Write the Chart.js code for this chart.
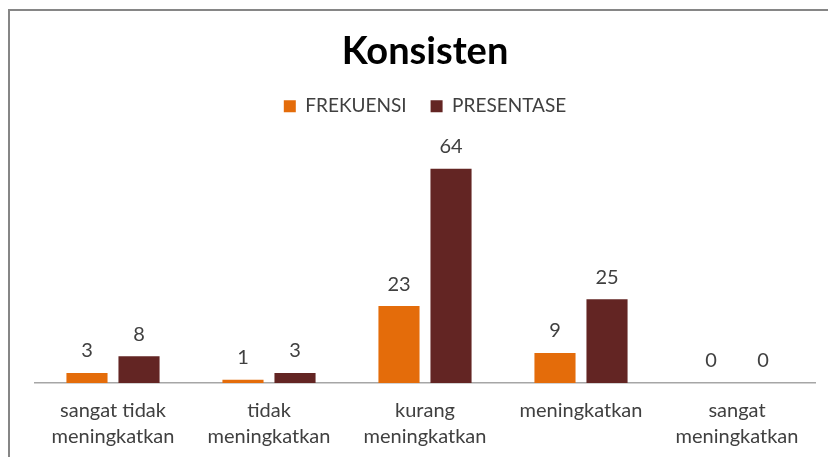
<!DOCTYPE html>
<html>
<head>
<meta charset="utf-8">
<script src="https://cdn.jsdelivr.net/npm/chart.js@4.4.1/dist/chart.umd.min.js"></script>
<style>
  html, body { margin: 0; padding: 0; background: #fff; }
  #wrap { position: relative; width: 828px; height: 457px; }
</style>
</head>
<body>
<div id="wrap"><canvas id="chart" width="828" height="457"></canvas></div>
<script>
// data
const categories = [
  ["sangat tidak", "meningkatkan"],
  ["tidak", "meningkatkan"],
  ["kurang", "meningkatkan"],
  "meningkatkan",
  ["sangat", "meningkatkan"]
];
const frekuensi = [3, 1, 23, 9, 0];
const presentase = [8, 3, 64, 25, 0];
const yMax = 70;

const FONT = "Lato, 'Open Sans', sans-serif";

// draws value labels above each bar
const valueLabels = {
  id: "valueLabels",
  afterDatasetsDraw(chart) {
    const ctx = chart.ctx;
    ctx.save();
    ctx.font = "20px " + FONT;
    ctx.fillStyle = "#404040";
    ctx.textAlign = "center";
    ctx.textBaseline = "middle";
    chart.data.datasets.forEach((ds, i) => {
      chart.getDatasetMeta(i).data.forEach((bar, j) => {
        ctx.fillText(ds.data[j], bar.x, bar.y - 22);
      });
    });
    ctx.restore();
  }
};

// grey frame at top and left, like the original chart box
const frame = {
  id: "frame",
  beforeDraw(chart) {
    const ctx = chart.ctx;
    ctx.save();
    ctx.strokeStyle = "#868686";
    ctx.lineWidth = 2;
    ctx.beginPath();
    ctx.moveTo(9, 457);
    ctx.lineTo(9, 10);
    ctx.lineTo(828, 10);
    ctx.stroke();
    ctx.restore();
  }
};

new Chart(document.getElementById("chart").getContext("2d"), {
  type: "bar",
  data: {
    labels: categories,
    datasets: [
      { label: "FREKUENSI", data: frekuensi, backgroundColor: "#E46C0A" },
      { label: "PRESENTASE", data: presentase, backgroundColor: "#632523" }
    ]
  },
  options: {
    responsive: false,
    animation: false,
    categoryPercentage: 0.667,
    barPercentage: 0.79,
    layout: { padding: { left: 35, right: 13, top: 29, bottom: 0 } },
    plugins: {
      title: {
        display: true,
        text: "Konsisten",
        color: "#000",
        font: { family: FONT, size: 38, weight: "bold", lineHeight: 1.1 },
        padding: { top: 2, bottom: 0 }
      },
      // empty subtitle used as a spacer between legend and plot
      subtitle: {
        display: true,
        text: "",
        weight: 500,
        font: { size: 10, lineHeight: 1 },
        padding: { top: 13, bottom: 0 }
      },
      legend: {
        display: true,
        labels: {
          color: "#404040",
          font: { family: FONT, size: 19 },
          boxWidth: 12,
          boxHeight: 12,
          padding: 24
        }
      },
      tooltip: { enabled: false }
    },
    scales: {
      x: {
        grid: { display: false, drawTicks: false },
        border: { display: true, color: "#A6A6A6", width: 1.5 },
        ticks: {
          color: "#404040",
          font: { family: FONT, size: 20, lineHeight: 1.3 },
          padding: 15,
          maxRotation: 0,
          autoSkip: false
        },
        afterFit(scale) { scale.height = 74; }
      },
      y: {
        display: false,
        min: 0,
        max: yMax
      }
    }
  },
  plugins: [valueLabels, frame]
});
</script>
</body>
</html>
